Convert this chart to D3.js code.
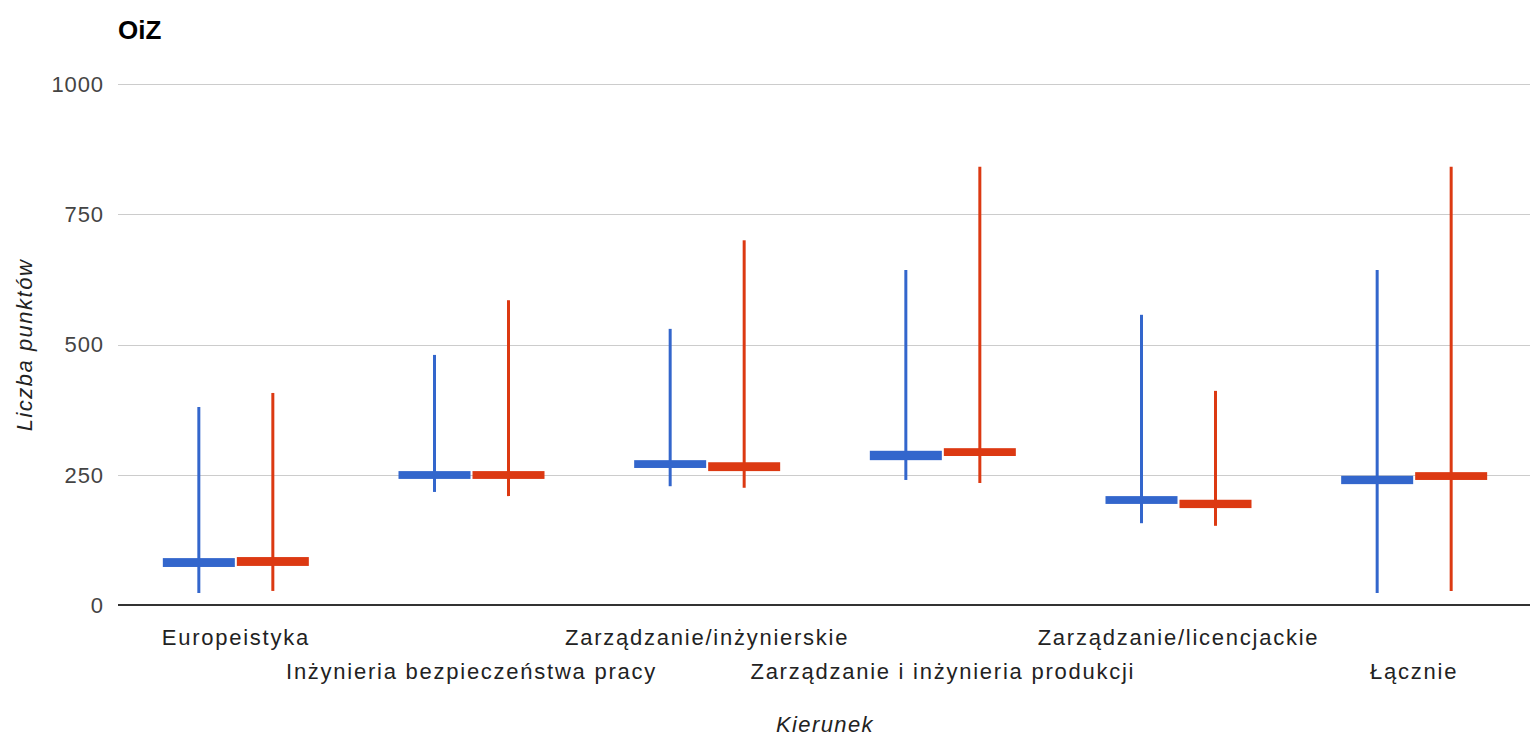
<!DOCTYPE html>
<html>
<head>
<meta charset="utf-8">
<script src="https://cdn.jsdelivr.net/npm/d3@7"></script>
<style>
  body { margin: 0; background: #fff; }
  text { font-family: "Liberation Sans", Arial, sans-serif; }
</style>
</head>
<body>
<div id="chart"></div>
<script>
const categories = ["Europeistyka", "Inżynieria bezpieczeństwa pracy", "Zarządzanie/inżynierskie",
    "Zarządzanie i inżynieria produkcji", "Zarządzanie/licencjackie", "Łącznie"];
const yTicks = [0, 250, 500, 750, 1000];

// blue series
const blueLow   = [23, 217, 228, 240, 157, 23];
const blueOpen  = [73, 242, 263, 278, 194, 232];
const blueClose = [90, 257, 278, 296, 209, 248];
const blueHigh  = [380, 480, 530, 643, 557, 643];

// red series
const redLow   = [27, 209, 225, 234, 152, 27];
const redOpen  = [75, 242, 257, 286, 186, 240];
const redClose = [92, 257, 274, 301, 202, 255];
const redHigh  = [407, 585, 700, 841, 411, 841];

const margin = {top: 84, right: -2, bottom: 133, left: 118};
const W = 1530, H = 738;
const width = W - margin.left - margin.right;
const height = H - margin.top - margin.bottom;

const svg = d3.select("#chart").append("svg")
    .attr("width", W)
    .attr("height", H);

svg.append("text")
    .attr("x", 118).attr("y", 39)
    .attr("font-size", 26).attr("font-weight", "bold")
    .attr("fill", "#000")
    .text("OiZ");

const g = svg.append("g")
    .attr("transform", `translate(${margin.left},${margin.top})`);

const x = d3.scaleBand().domain(categories).range([0, width]);
const y = d3.scaleLinear().domain([0, 1000]).range([height, 0]);

// gridlines
g.append("g").selectAll("line")
    .data(yTicks.filter(t => t > 0))
    .enter().append("line")
    .attr("x1", 0).attr("x2", width)
    .attr("y1", d => Math.round(y(d)) + 0.5).attr("y2", d => Math.round(y(d)) + 0.5)
    .attr("stroke", "#cccccc");

// y tick labels
g.append("g").selectAll("text")
    .data(yTicks)
    .enter().append("text")
    .attr("x", -14).attr("y", d => y(d))
    .attr("dy", "0.36em")
    .attr("text-anchor", "end")
    .attr("font-size", 22)
    .attr("letter-spacing", 0.9)
    .attr("fill", "#444")
    .text(d => d);

const series = [
    {color: "#3366cc", off: -37, low: blueLow, open: blueOpen, close: blueClose, high: blueHigh},
    {color: "#dc3912", off: 37, low: redLow, open: redOpen, close: redClose, high: redHigh}
];
const boxW = 72;

series.forEach(s => {
    const sg = g.append("g");
    const rows = categories.map((c, i) => ({c, low: s.low[i], open: s.open[i], close: s.close[i], high: s.high[i]}));
    sg.selectAll("line")
        .data(rows)
        .enter().append("line")
        .attr("x1", d => x(d.c) + x.bandwidth() / 2 + s.off)
        .attr("x2", d => x(d.c) + x.bandwidth() / 2 + s.off)
        .attr("y1", d => y(d.low)).attr("y2", d => y(d.high))
        .attr("stroke", s.color).attr("stroke-width", 3);
    sg.selectAll("rect")
        .data(rows)
        .enter().append("rect")
        .attr("x", d => x(d.c) + x.bandwidth() / 2 + s.off - boxW / 2)
        .attr("width", boxW)
        .attr("y", d => y(Math.max(d.open, d.close)))
        .attr("height", d => Math.abs(y(d.open) - y(d.close)))
        .attr("fill", s.color);
});

// baseline
g.append("line")
    .attr("x1", 0).attr("x2", width)
    .attr("y1", y(0)).attr("y2", y(0))
    .attr("stroke", "#333").attr("stroke-width", 2);

// x labels, staggered
g.append("g").selectAll("text")
    .data(categories)
    .enter().append("text")
    .attr("x", d => x(d) + x.bandwidth() / 2)
    .attr("y", (d, i) => height + (i % 2 === 0 ? 40 : 74))
    .attr("text-anchor", "middle")
    .attr("font-size", 22)
    .attr("letter-spacing", 1.75)
    .attr("fill", "#222")
    .text(d => d);

// axis titles
svg.append("text")
    .attr("x", margin.left + width / 2).attr("y", 732)
    .attr("text-anchor", "middle")
    .attr("font-size", 22).attr("font-style", "italic")
    .attr("letter-spacing", 1.4)
    .attr("fill", "#222")
    .text("Kierunek");

svg.append("text")
    .attr("transform", "translate(32,345) rotate(-90)")
    .attr("text-anchor", "middle")
    .attr("font-size", 22).attr("font-style", "italic")
    .attr("letter-spacing", 1.5)
    .attr("fill", "#222")
    .text("Liczba punktów");
</script>
</body>
</html>
